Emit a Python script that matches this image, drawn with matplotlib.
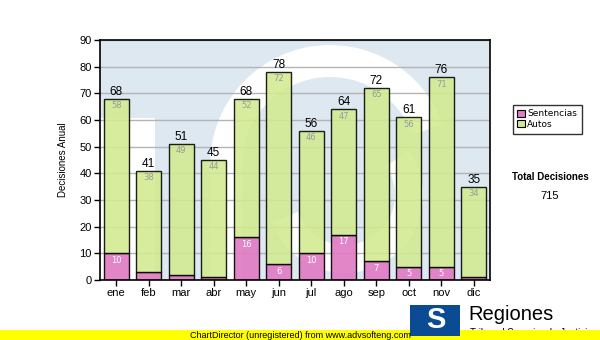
import matplotlib
matplotlib.use("Agg")
import matplotlib.pyplot as plt
from matplotlib.patches import Rectangle, Wedge
import numpy as np

months = ["ene", "feb", "mar", "abr", "may", "jun", "jul", "ago", "sep", "oct", "nov", "dic"]
sentencias = [10, 3, 2, 1, 16, 6, 10, 17, 7, 5, 5, 1]
autos = [58, 38, 49, 44, 52, 72, 46, 47, 65, 56, 71, 34]
totals = [s + a for s, a in zip(sentencias, autos)]
yticks = list(range(0, 91, 10))

plt.rcParams['font.family'] = ['Liberation Sans', 'DejaVu Sans']

W, H = 600, 340
fig = plt.figure(figsize=(6, 3.4), dpi=100)
fig.patch.set_facecolor('white')

def fx(px):
    return px / W

def fy(py):
    return 1 - py / H

ax = fig.add_axes([fx(100), fy(280), 390 / W, 240 / H])
ax.set_facecolor('#dde8f1')

def ax_xy(px, py):
    return ((px - 100) / 390, (280 - py) / 240)

def wedge_px(cx, cy, r, t1, t2, w):
    return Wedge((cx / 100, (H - cy) / 100), r / 100, t1, t2, width=w / 100,
                 transform=fig.dpi_scale_trans, facecolor='white', edgecolor='none', zorder=0.5)

# faint watermark of the logo behind the bars
ax.add_patch(Rectangle(ax_xy(100, 280), 55 / 390, 162 / 240, transform=ax.transAxes,
                       facecolor='white', edgecolor='none', zorder=0.5))
ax.add_patch(Rectangle(ax_xy(210, 280), 32 / 390, 115 / 240, transform=ax.transAxes,
                       facecolor='white', edgecolor='none', zorder=0.5))
w1 = wedge_px(330, 165, 120, 20, 180, 32)
w1.set_clip_path(ax.patch)
ax.add_patch(w1)
w2 = wedge_px(345, 195, 78, -160, 35, 28)
w2.set_clip_path(ax.patch)
ax.add_patch(w2)

x = np.arange(len(months))
bw = 0.77
ax.bar(x, sentencias, bw, color='#e07cc4', edgecolor='black', linewidth=1.0,
       alpha=0.92, zorder=3, label='Sentencias')
ax.bar(x, autos, bw, bottom=sentencias, color='#d2ea8f', edgecolor='black', linewidth=1.0,
       alpha=0.88, zorder=3, label='Autos')

for i in range(len(months)):
    ax.annotate(str(totals[i]), (x[i], totals[i]), xytext=(0, 1), textcoords='offset pixels',
                ha='center', va='bottom', fontsize=8.5, color='black', zorder=5)
    ax.annotate(str(autos[i]), (x[i], totals[i]), xytext=(0, -7), textcoords='offset pixels',
                ha='center', va='center', fontsize=6, color='#9a9a9a', zorder=5,
                family=['DejaVu Sans'])
    if sentencias[i] >= 5:
        ax.annotate(str(sentencias[i]), (x[i], sentencias[i]), xytext=(0, -7),
                    textcoords='offset pixels', ha='center', va='center',
                    fontsize=6, color='white', zorder=5, family=['DejaVu Sans'])

ax.set_xlim(-0.5, len(months) - 0.5)
ax.set_ylim(0, 90)
ax.set_yticks(yticks)
ax.set_xticks(x)
ax.set_xticklabels(months)
ax.yaxis.grid(True, color='#b4b4b4', linewidth=1.0, zorder=1)
ax.set_axisbelow(True)
ax.tick_params(axis='both', labelsize=8, length=4, width=1, direction='out', pad=2)
for sp in ax.spines.values():
    sp.set_linewidth(1.2)
    sp.set_color('black')
    sp.set_zorder(6)
ax.set_ylabel('Decisiones Anual', fontsize=7, labelpad=8)

# legend box
leg = fig.legend(loc='upper left', bbox_to_anchor=(fx(508), fy(100)),
                 prop={'family': 'DejaVu Sans', 'size': 6.5},
                 frameon=True, fancybox=False, edgecolor='black', handlelength=0.8,
                 handleheight=0.8, handletextpad=0.3, borderpad=0.55, labelspacing=0.15)
leg.get_frame().set_linewidth(1.0)
for h in leg.legend_handles:
    h.set_alpha(1)
    h.set_linewidth(0.8)

fig.text(fx(550), fy(177), 'Total Decisiones', fontsize=7, fontweight='bold',
         ha='center', va='center')
fig.text(fx(550), fy(196), '715', fontsize=8, ha='center', va='center')

# footer
fig.text(fx(470), fy(333), 'Tribunal Superior de Justicia', fontsize=7, ha='left',
         va='center', zorder=1)
fig.patches.append(Rectangle((0, 0), 1, 10 / H, transform=fig.transFigure,
                             facecolor='#ffff00', edgecolor='none', zorder=2))
fig.text(fx(300), fy(335), 'ChartDirector (unregistered) from www.advsofteng.com',
         fontsize=6.5, ha='center', va='center', zorder=3)
fig.patches.append(Rectangle((fx(410), fy(336)), 50 / W, 31 / H, transform=fig.transFigure,
                             facecolor='#0a4b94', edgecolor='none', zorder=2))
fig.text(fx(436), fy(320), 'S', fontsize=21, fontweight='bold', color='white',
         ha='center', va='center', zorder=3)
fig.text(fx(468), fy(315), 'Regiones', fontsize=14.5, ha='left', va='center', zorder=3)

fig.savefig('out.png', dpi=100)
